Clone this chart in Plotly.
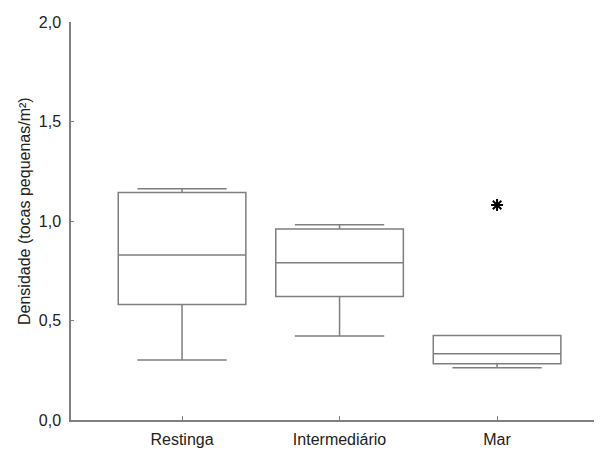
import plotly.graph_objects as go

categories = ["Restinga", "Intermediário", "Mar"]
q1_vals = [0.581, 0.621, 0.283]
median_vals = [0.829, 0.790, 0.333]
q3_vals = [1.143, 0.960, 0.424]
lower_whisker = [0.301, 0.422, 0.263]
upper_whisker = [1.162, 0.981, 0.424]
outlier_cat = ["Mar"]
outlier_vals = [1.08]
y_ticks = [0.0, 0.5, 1.0, 1.5, 2.0]

line_col = "#7f7f7f"
font_fam = "Liberation Sans, Arial, sans-serif"

# page body has an 8px default margin; margins below compensate for it
fig = go.Figure()
fig.add_trace(go.Box(
    x=categories, q1=q1_vals, median=median_vals, q3=q3_vals,
    lowerfence=lower_whisker, upperfence=upper_whisker,
    boxpoints=False, width=0.81, whiskerwidth=0.7,
    fillcolor="white", line=dict(color=line_col, width=1.5),
    showlegend=False, hoverinfo="skip",
))
fig.add_trace(go.Scatter(
    x=outlier_cat, y=outlier_vals, mode="markers",
    marker=dict(symbol="asterisk-open", size=10, color="black",
                line=dict(color="black", width=2)),
    showlegend=False,
))

fig.update_layout(
    width=602, height=450,
    margin=dict(l=63, r=0, t=14, b=38),
    paper_bgcolor="white", plot_bgcolor="white",
    separators=",.",
    font=dict(family=font_fam, size=16, color="#222222"),
    xaxis=dict(
        type="category", categoryorder="array", categoryarray=categories,
        range=[-0.705, 2.717], showline=True, linecolor=line_col, linewidth=1.5,
        ticks="inside", ticklen=4, tickcolor=line_col, showgrid=False,
        zeroline=False, tickfont=dict(size=16), automargin=False,
        ticklabelstandoff=4,
    ),
    yaxis=dict(
        range=[0, 2.0], tickvals=y_ticks, tickformat=".1f",
        showline=True, linecolor=line_col, linewidth=1.5,
        ticks="inside", ticklen=3, tickcolor=line_col, showgrid=False,
        zeroline=False, tickfont=dict(size=16), ticklabelstandoff=5,
        automargin=False,
    ),
    annotations=[dict(
        text="Densidade (tocas pequenas/m²)", textangle=-90,
        xref="paper", yref="paper", x=(24 - 71) / 539, y=(420 - 211) / 398,
        xanchor="center", yanchor="middle", showarrow=False,
        font=dict(size=16, color="#222222"),
    )],
)

fig.write_html("out.html")
